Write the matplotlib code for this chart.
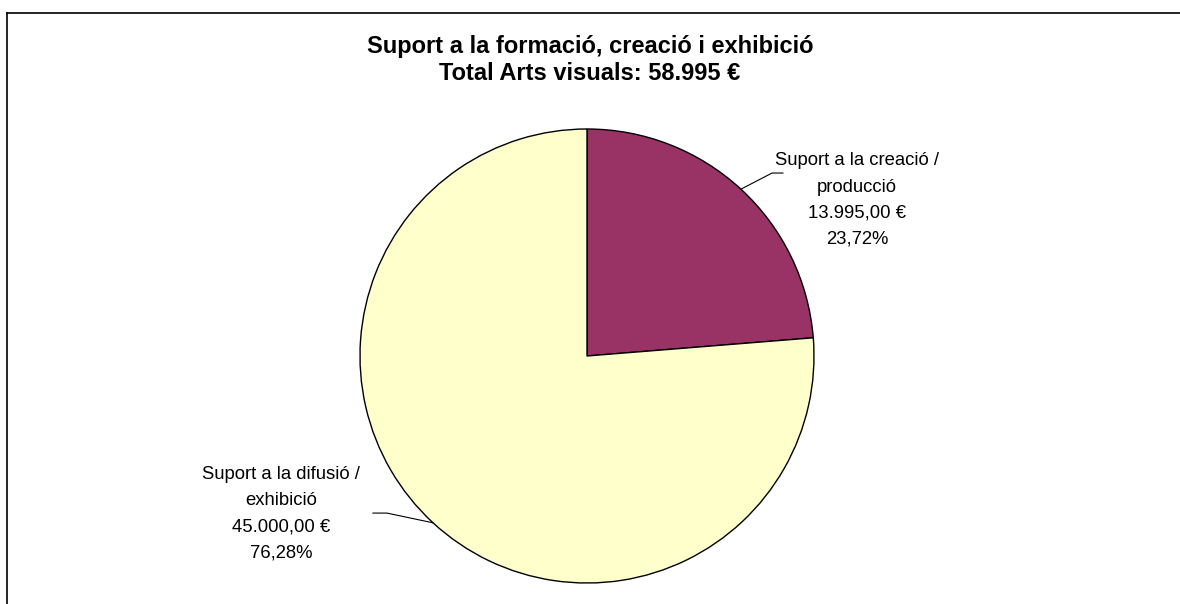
import numpy as np
import matplotlib
matplotlib.use("Agg")
import matplotlib.pyplot as plt
from matplotlib.lines import Line2D

plt.rcParams['font.family'] = ['Liberation Sans', 'DejaVu Sans']

# data
categories = ["Suport a la creació /\nproducció", "Suport a la difusió /\nexhibició"]
values = [13995.00, 45000.00]
colors = ["#993366", "#FFFFCC"]
title = "Suport a la formació, creació i exhibició\nTotal Arts visuals: 58.995 €"


def fmt_eur(v):
    s = f"{v:,.2f}"
    s = s.replace(",", "X").replace(".", ",").replace("X", ".")
    return s + " €"


W, H = 1180, 604
fig = plt.figure(figsize=(W / 100, H / 100), dpi=100)

# pie centre / radius in pixels
cx, cy, r = 587, 356, 227
ax = fig.add_axes([(cx - r) / W, (H - cy - r) / H, 2 * r / W, 2 * r / H])

wedges, _ = ax.pie(values, colors=colors, startangle=90, counterclock=False,
                   wedgeprops=dict(edgecolor="black", linewidth=1.0))
ax.set_xlim(-1, 1)
ax.set_ylim(-1, 1)
ax.set_aspect("auto")
ax.axis("off")

total = sum(values)
text_pos = [(1.19, 0.687), (-1.348, -0.696)]
elbow = [(0.815, 0.806), (-0.881, -0.692)]
ends = [(0.863, 0.806), (-0.943, -0.692)]

for i, w in enumerate(wedges):
    mid = np.deg2rad((w.theta1 + w.theta2) / 2)
    ax_, ay_ = np.cos(mid), np.sin(mid)
    pct = values[i] / total * 100
    lbl = categories[i] + "\n" + fmt_eur(values[i]) + "\n" + f"{pct:.2f}".replace(".", ",") + "%"
    ax.text(text_pos[i][0], text_pos[i][1], lbl, ha="center", va="center",
            fontsize=13.3, linespacing=1.7, clip_on=False)
    ax.plot([ax_, elbow[i][0], ends[i][0]], [ay_, elbow[i][1], ends[i][1]],
            color="black", lw=0.8, clip_on=False)

fig.text(590 / W, 1 - 60 / H, title, ha="center", va="center",
         fontsize=17, fontweight="bold", linespacing=1.23)

# chart frame (runs off the right and bottom edge)
fig.add_artist(Line2D([7 / W, 7 / W], [1 - 13 / H, -0.1], color="black", lw=1.2,
                      transform=fig.transFigure))
fig.add_artist(Line2D([7 / W, 1.1], [1 - 13 / H, 1 - 13 / H], color="black", lw=1.2,
                      transform=fig.transFigure))

fig.savefig("out.png", dpi=100, facecolor="white")
